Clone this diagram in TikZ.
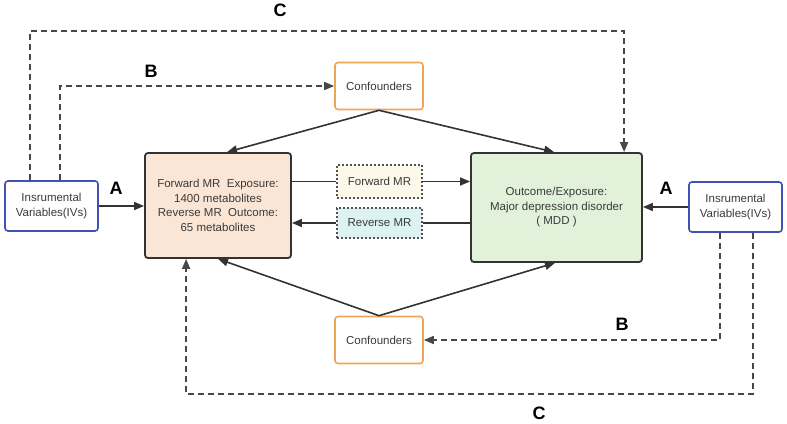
\documentclass[tikz,border=0pt]{standalone}
\usepackage{fontspec}
\setmainfont{Liberation Sans}
\usetikzlibrary{arrows.meta,calc}
\definecolor{txt}{HTML}{3A3A3A}
\definecolor{ln}{HTML}{333333}
\definecolor{ivblue}{HTML}{3F51B5}
\definecolor{conforange}{HTML}{F0A35A}
\definecolor{peach}{HTML}{FBE5D5}
\definecolor{mint}{HTML}{E2F2DA}
\definecolor{cream}{HTML}{FCF8EA}
\definecolor{aqua}{HTML}{DDF2F3}
\tikzset{
  base/.style={text=txt,font=\fontsize{11.5}{14.5}\selectfont,align=center,inner sep=0pt},
  ivbox/.style={base,draw=ivblue,line width=1.6pt,rounded corners=3pt,fill=white,minimum width=93pt,minimum height=50pt},
  mainbox/.style={base,draw=ln,line width=1.8pt,rounded corners=3pt},
  confbox/.style={base,draw=conforange,line width=1.6pt,rounded corners=3pt,fill=white,minimum width=88pt,minimum height=47pt},
  mrbox/.style={base,draw=ln!85,line width=1.3pt,dash pattern=on 2pt off 2pt,minimum width=85pt},
  conn/.style={draw=ln,line width=1.6pt,-{Triangle[length=10pt,width=8pt]}},
  plainconn/.style={draw=ln,line width=1.6pt},
  dconn/.style={draw=ln!90,line width=1.6pt,dash pattern=on 6pt off 4pt,-{Triangle[length=10pt,width=8pt]}},
  lab/.style={font=\fontsize{18}{18}\selectfont\bfseries,text=black,inner sep=0pt}
}
\begin{document}
\begin{tikzpicture}[x=1pt,y=-1pt]
\useasboundingbox (0,0) rectangle (787,423);
\node[ivbox] (ivL) at (51.5,206) {Insrumental\\Variables(IVs)};
\node[ivbox] (ivR) at (735.5,207) {Insrumental\\Variables(IVs)};
\node[mainbox,fill=peach,minimum width=146pt,minimum height=105pt] (mainL) at (218,205.5)
  {Forward MR\ \ Exposure:\\1400 metabolites\\Reverse MR\ \ Outcome:\\65 metabolites};
\node[mainbox,fill=mint,minimum width=171pt,minimum height=109pt] (mainR) at (556.5,207.5)
  {Outcome/Exposure:\\Major depression disorder\\( MDD )};
\node[mrbox,fill=cream,minimum height=33pt] (fwd) at (379.5,181.5) {Forward MR};
\node[mrbox,fill=aqua,minimum height=30pt] (rev) at (379.5,223) {Reverse MR};
\node[confbox] (confT) at (379,86) {Confounders};
\node[confbox] (confB) at (379,340) {Confounders};
% labels
\node[lab] (aL) at (116,188) {A};
\node[lab] (aR) at (666,188) {A};
\node[lab] (bT) at (151,71) {B};
\node[lab] (bB) at (622,324) {B};
\node[lab] (cT) at (280,10) {C};
\node[lab] (cB) at (539,413) {C};
% A arrows
\draw[conn] (ivL.east) -- (ivL.east -| mainL.west);
\draw[conn] (ivR.west) -- (ivR.west -| mainR.east);
% MR arrows
\draw[plainconn] (mainL.east |- fwd.west) -- (fwd.west);
\draw[conn] (fwd.east) -- (fwd.east -| mainR.west);
\draw[plainconn] (mainR.west |- rev.east) -- (rev.east);
\draw[conn] (rev.west) -- (rev.west -| mainL.east);
% confounders
\draw[conn] (confT.south) -- ($(mainL.north west)+(83,0)$);
\draw[conn] (confT.south) -- ($(mainR.north west)+(84,0)$);
\draw[conn] (confB.north) -- (mainL.south);
\draw[conn] (confB.north) -- ($(mainR.south)+(-1.5,0)$);
% B paths
\draw[dconn] ($(ivL.north west)+(56,0)$) |- (confT.west);
\draw[dconn] ($(ivR.south west)+(32,0)$) |- (confB.east);
% C paths
\draw[dconn] ($(ivL.north west)+(26,0)$) -- ++(0,-149) -| ($(mainR.north west)+(154,0)$);
\draw[dconn] ($(ivR.south west)+(65,0)$) -- ++(0,161) -| ($(mainL.south west)+(42,0)$);
\end{tikzpicture}
\end{document}
